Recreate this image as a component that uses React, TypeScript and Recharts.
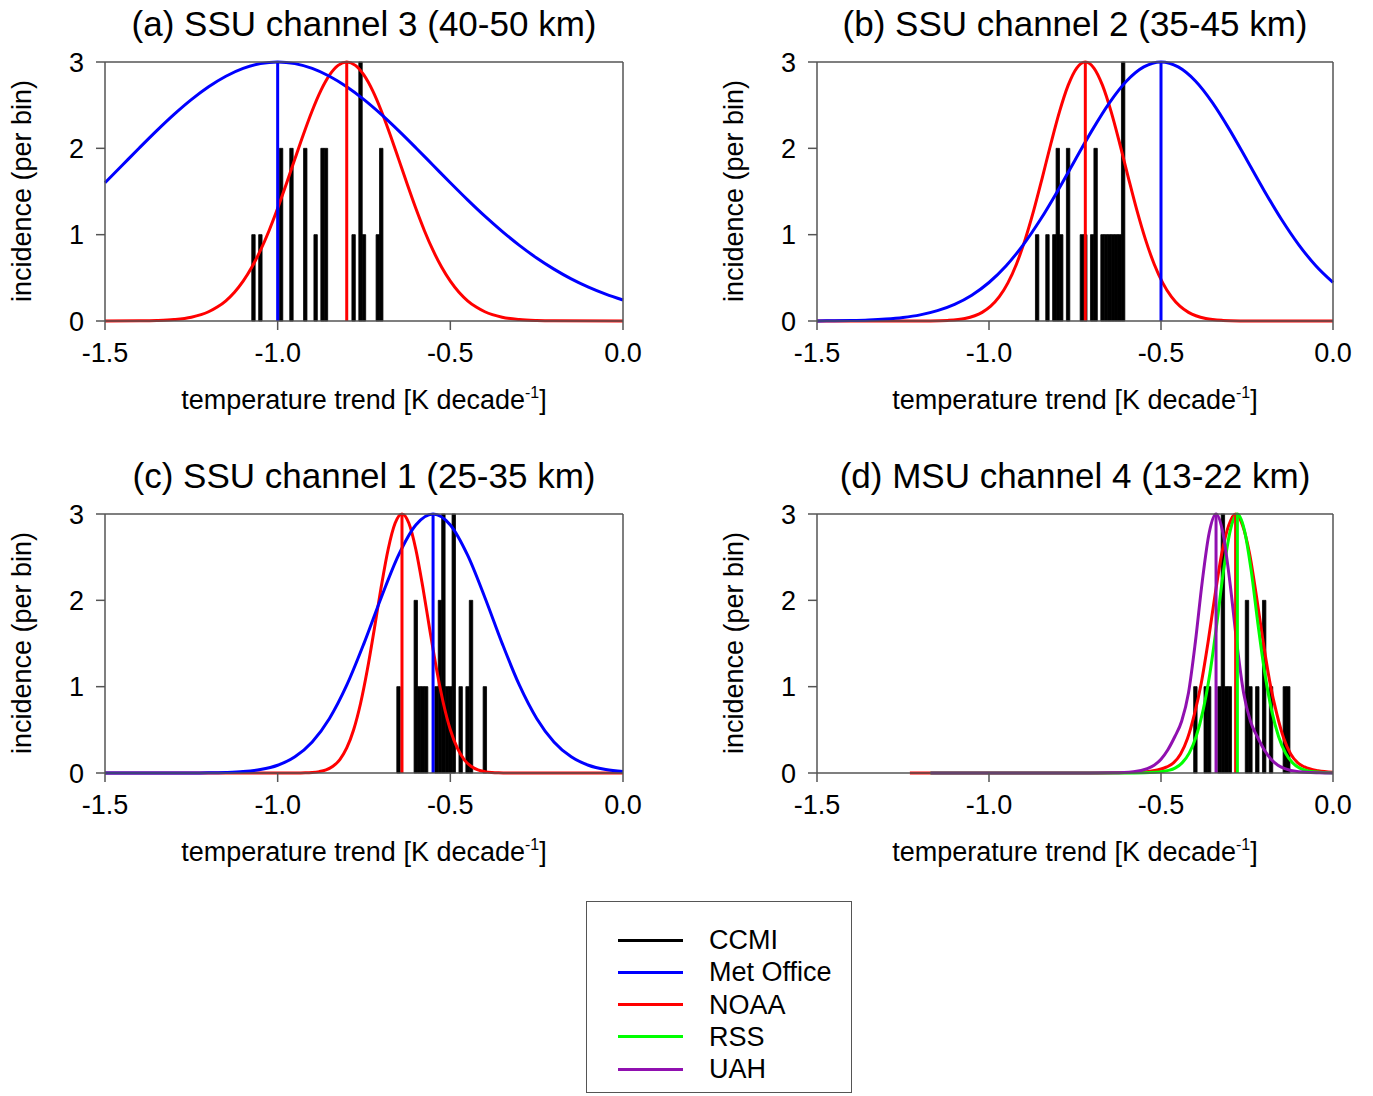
import React from 'react';
import { ComposedChart, Bar, Line, XAxis, YAxis, ReferenceLine } from 'recharts';

const FONT = '"Liberation Sans", Arial, Helvetica, sans-serif';
const AXIS = '#555555';

const xTicks = [-1.5, -1.0, -0.5, 0.0];
const yTicks = [0, 1, 2, 3];

const seriesNames = ['CCMI', 'Met Office', 'NOAA', 'RSS', 'UAH'];
const seriesColors = ['#000000', '#0000ff', '#ff0000', '#00ff00', '#9010b0'];

const panelTitles = [
  '(a) SSU channel 3 (40-50 km)',
  '(b) SSU channel 2 (35-45 km)',
  '(c) SSU channel 1 (25-35 km)',
  '(d) MSU channel 4 (13-22 km)',
];
const yLabel = 'incidence (per bin)';

type Pair = [number, number];

// CCMI model trends, 0.01 K/decade bins: [bin centre, count]
const ccmiA: Pair[] = [
  [-1.07, 1], [-1.05, 1], [-0.99, 2], [-0.96, 2], [-0.92, 2], [-0.89, 1], [-0.87, 2],
  [-0.86, 2], [-0.78, 1], [-0.76, 3], [-0.75, 1], [-0.71, 1], [-0.7, 2],
];
const ccmiB: Pair[] = [
  [-0.86, 1], [-0.83, 1], [-0.81, 1], [-0.8, 2], [-0.79, 1], [-0.77, 2], [-0.73, 1],
  [-0.72, 1], [-0.7, 1], [-0.69, 2], [-0.67, 1], [-0.66, 1], [-0.65, 1], [-0.64, 1],
  [-0.63, 1], [-0.62, 1], [-0.61, 3],
];
const ccmiC: Pair[] = [
  [-0.65, 1], [-0.6, 2], [-0.59, 1], [-0.58, 1], [-0.57, 1], [-0.54, 1], [-0.53, 2],
  [-0.52, 3], [-0.51, 1], [-0.5, 1], [-0.49, 3], [-0.47, 1], [-0.45, 1], [-0.44, 2],
  [-0.4, 1],
];
const ccmiD: Pair[] = [
  [-0.4, 1], [-0.37, 1], [-0.36, 1], [-0.33, 1], [-0.32, 3], [-0.31, 1], [-0.3, 1],
  [-0.25, 2], [-0.24, 1], [-0.22, 1], [-0.2, 2], [-0.18, 1], [-0.14, 1], [-0.13, 1],
];

const metA: Pair[] = [
  [-1.5, 1.601], [-1.45, 1.804], [-1.4, 2.007], [-1.35, 2.205], [-1.3, 2.393], [-1.25, 2.564],
  [-1.2, 2.713], [-1.15, 2.835], [-1.1, 2.926], [-1.05, 2.981], [-1.0, 3.0], [-0.95, 2.981],
  [-0.9, 2.926], [-0.85, 2.835], [-0.8, 2.713], [-0.75, 2.564], [-0.7, 2.393], [-0.65, 2.205],
  [-0.6, 2.007], [-0.55, 1.804], [-0.5, 1.601], [-0.45, 1.403], [-0.4, 1.214], [-0.35, 1.038],
  [-0.3, 0.876], [-0.25, 0.73], [-0.2, 0.601], [-0.15, 0.488], [-0.1, 0.392], [-0.05, 0.311],
  [0, 0.243],
];
const noaaA: Pair[] = [
  [-1.5, 0], [-1.4, 0.002], [-1.35, 0.006], [-1.3, 0.017], [-1.25, 0.044], [-1.2, 0.107],
  [-1.175, 0.161], [-1.15, 0.234], [-1.125, 0.333], [-1.1, 0.461], [-1.075, 0.622],
  [-1.05, 0.817], [-1.025, 1.046], [-1.0, 1.305], [-0.975, 1.586], [-0.95, 1.878],
  [-0.925, 2.167], [-0.9, 2.436], [-0.875, 2.669], [-0.85, 2.848], [-0.825, 2.961],
  [-0.8, 3.0], [-0.775, 2.961], [-0.75, 2.848], [-0.725, 2.669], [-0.7, 2.436],
  [-0.675, 2.167], [-0.65, 1.878], [-0.625, 1.586], [-0.6, 1.305], [-0.575, 1.046],
  [-0.55, 0.817], [-0.525, 0.622], [-0.5, 0.461], [-0.475, 0.333], [-0.45, 0.234],
  [-0.425, 0.161], [-0.4, 0.107], [-0.35, 0.044], [-0.3, 0.017], [-0.25, 0.006],
  [-0.2, 0.002], [0, 0],
];
const metB: Pair[] = [
  [-1.5, 0.001], [-1.45, 0.003], [-1.4, 0.006], [-1.35, 0.012], [-1.3, 0.023], [-1.25, 0.041],
  [-1.2, 0.071], [-1.15, 0.12], [-1.1, 0.193], [-1.05, 0.299], [-1.0, 0.446], [-0.95, 0.64],
  [-0.9, 0.885], [-0.85, 1.178], [-0.8, 1.51], [-0.75, 1.862], [-0.7, 2.211], [-0.65, 2.527],
  [-0.6, 2.78], [-0.55, 2.943], [-0.5, 3.0], [-0.45, 2.943], [-0.4, 2.78], [-0.35, 2.527],
  [-0.3, 2.211], [-0.25, 1.862], [-0.2, 1.51], [-0.15, 1.178], [-0.1, 0.885], [-0.05, 0.64],
  [0, 0.446],
];
const noaaB: Pair[] = [
  [-1.5, 0], [-1.22, 0], [-1.17, 0.001], [-1.12, 0.007], [-1.07, 0.029], [-1.02, 0.1],
  [-0.995, 0.172], [-0.97, 0.282], [-0.945, 0.442], [-0.92, 0.661], [-0.895, 0.943],
  [-0.87, 1.281], [-0.845, 1.662], [-0.82, 2.056], [-0.795, 2.425], [-0.77, 2.729],
  [-0.745, 2.93], [-0.72, 3.0], [-0.695, 2.93], [-0.67, 2.729], [-0.645, 2.425],
  [-0.62, 2.056], [-0.595, 1.662], [-0.57, 1.281], [-0.545, 0.943], [-0.52, 0.661],
  [-0.495, 0.442], [-0.47, 0.282], [-0.445, 0.172], [-0.42, 0.1], [-0.37, 0.029],
  [-0.32, 0.007], [-0.27, 0.001], [-0.22, 0], [0, 0],
];
const metC: Pair[] = [
  [-1.5, 0], [-1.3, 0], [-1.25, 0.001], [-1.2, 0.002], [-1.15, 0.006], [-1.1, 0.016],
  [-1.05, 0.04], [-1.0, 0.09], [-0.95, 0.188], [-0.9, 0.36], [-0.85, 0.632], [-0.8, 1.017],
  [-0.75, 1.502], [-0.7, 2.033], [-0.65, 2.523], [-0.6, 2.873], [-0.55, 3.0], [-0.5, 2.873],
  [-0.45, 2.523], [-0.4, 2.033], [-0.35, 1.502], [-0.3, 1.017], [-0.25, 0.632], [-0.2, 0.36],
  [-0.15, 0.188], [-0.1, 0.09], [-0.05, 0.04], [0, 0.016],
];
const noaaC: Pair[] = [
  [-1.5, 0], [-0.96, 0], [-0.94, 0.001], [-0.92, 0.002], [-0.9, 0.006], [-0.88, 0.016],
  [-0.86, 0.036], [-0.84, 0.078], [-0.82, 0.156], [-0.8, 0.29], [-0.78, 0.501], [-0.76, 0.805],
  [-0.74, 1.204], [-0.72, 1.672], [-0.7, 2.159], [-0.68, 2.592], [-0.66, 2.892], [-0.64, 3.0],
  [-0.62, 2.892], [-0.6, 2.592], [-0.58, 2.159], [-0.56, 1.672], [-0.54, 1.204], [-0.52, 0.805],
  [-0.5, 0.501], [-0.48, 0.29], [-0.46, 0.156], [-0.44, 0.078], [-0.42, 0.036], [-0.4, 0.016],
  [-0.38, 0.006], [-0.36, 0.002], [-0.34, 0.001], [-0.32, 0], [0, 0],
];
const noaaD: Pair[] = [
  [-1.23, 0], [-0.683, 0], [-0.583, 0.005], [-0.523, 0.025], [-0.483, 0.07], [-0.463, 0.12],
  [-0.443, 0.22], [-0.423, 0.4], [-0.403, 0.68], [-0.383, 1.04], [-0.363, 1.52], [-0.343, 2.06],
  [-0.323, 2.55], [-0.303, 2.87], [-0.283, 3.0], [-0.263, 2.87], [-0.243, 2.55], [-0.223, 2.06],
  [-0.203, 1.52], [-0.183, 1.04], [-0.163, 0.68], [-0.143, 0.4], [-0.123, 0.22], [-0.103, 0.12],
  [-0.083, 0.07], [-0.043, 0.025], [0, 0.008],
];
const rssD: Pair[] = [
  [-1.17, 0], [-0.578, 0], [-0.518, 0.008], [-0.478, 0.03], [-0.458, 0.06], [-0.438, 0.12],
  [-0.418, 0.23], [-0.398, 0.42], [-0.378, 0.72], [-0.358, 1.15], [-0.338, 1.72], [-0.318, 2.35],
  [-0.298, 2.82], [-0.278, 3.0], [-0.258, 2.82], [-0.238, 2.35], [-0.218, 1.72], [-0.198, 1.15],
  [-0.178, 0.72], [-0.158, 0.42], [-0.138, 0.23], [-0.118, 0.12], [-0.098, 0.06], [-0.078, 0.03],
  [-0.038, 0.008], [0, 0.001],
];
const uahD: Pair[] = [
  [-1.17, 0], [-0.74, 0], [-0.64, 0.003], [-0.58, 0.015], [-0.54, 0.05], [-0.52, 0.09],
  [-0.5, 0.16], [-0.48, 0.27], [-0.46, 0.42], [-0.44, 0.6], [-0.42, 0.93], [-0.4, 1.52],
  [-0.38, 2.22], [-0.36, 2.78], [-0.34, 3.0], [-0.32, 2.78], [-0.3, 2.22], [-0.28, 1.52],
  [-0.26, 0.93], [-0.24, 0.6], [-0.22, 0.42], [-0.2, 0.27], [-0.18, 0.16], [-0.16, 0.09],
  [-0.14, 0.05], [-0.1, 0.015], [-0.04, 0.003], [0, 0],
];

// central trend estimates (vertical lines)
const meansA: [string, number][] = [['NOAA', -0.8], ['Met Office', -1.0]];
const meansB: [string, number][] = [['NOAA', -0.72], ['Met Office', -0.5]];
const meansC: [string, number][] = [['NOAA', -0.64], ['Met Office', -0.55]];
const meansD: [string, number][] = [['NOAA', -0.283], ['RSS', -0.278], ['UAH', -0.34]];

const colorOf = (name: string) => seriesColors[seriesNames.indexOf(name)];

interface PanelSpec {
  title: string;
  bins: Pair[];
  curves: [string, Pair[]][];
  means: [string, number][];
}

const panels: PanelSpec[] = [
  { title: panelTitles[0], bins: ccmiA, curves: [['NOAA', noaaA], ['Met Office', metA]], means: meansA },
  { title: panelTitles[1], bins: ccmiB, curves: [['NOAA', noaaB], ['Met Office', metB]], means: meansB },
  { title: panelTitles[2], bins: ccmiC, curves: [['NOAA', noaaC], ['Met Office', metC]], means: meansC },
  { title: panelTitles[3], bins: ccmiD, curves: [['NOAA', noaaD], ['RSS', rssD], ['UAH', uahD]], means: meansD },
];

const slots = [
  { left: 0, top: 0, plotW: 518, rightW: 63 },
  { left: 712, top: 0, plotW: 516, rightW: 40 },
  { left: 0, top: 452, plotW: 518, rightW: 63 },
  { left: 712, top: 452, plotW: 516, rightW: 40 },
];

const H = 400;
const LEFT_W = 105;

function Panel({ spec, slot }: { spec: PanelSpec; slot: (typeof slots)[number] }) {
  const width = LEFT_W + slot.plotW + slot.rightW;
  const bins = spec.bins.map(([x, n]) => ({ x, n }));
  const cx = LEFT_W + slot.plotW / 2;
  const axisLine = { stroke: AXIS, strokeWidth: 1.5 };
  const tickStyle = { fontSize: 27, fill: '#000', fontFamily: FONT };

  return (
    <div style={{ position: 'absolute', left: slot.left, top: slot.top, width, height: H }}>
      <ComposedChart width={width} height={H} data={bins} margin={{ top: 52, right: 0, bottom: 0, left: 0 }}>
        <XAxis
          xAxisId="main"
          dataKey="x"
          type="number"
          domain={[-1.5, 0]}
          ticks={xTicks}
          interval={0}
          tickFormatter={(v: number) => v.toFixed(1)}
          height={79}
          tickSize={9}
          tickMargin={13}
          axisLine={axisLine}
          tickLine={axisLine}
          tick={tickStyle}
        />
        <XAxis xAxisId="bins" dataKey="x" type="number" domain={[-1.5, 0]} height={0} hide />
        <XAxis
          xAxisId="top"
          orientation="top"
          dataKey="x"
          type="number"
          domain={[-1.5, 0]}
          ticks={xTicks}
          interval={0}
          height={10}
          tickSize={9}
          axisLine={axisLine}
          tickLine={axisLine}
          tick={false}
        />
        <YAxis
          yAxisId="l"
          type="number"
          domain={[0, 3]}
          ticks={yTicks}
          interval={0}
          width={LEFT_W}
          tickSize={9}
          tickMargin={12}
          axisLine={axisLine}
          tickLine={axisLine}
          tick={tickStyle}
        />
        <YAxis
          yAxisId="r"
          orientation="right"
          type="number"
          domain={[0, 3]}
          ticks={yTicks}
          interval={0}
          width={slot.rightW}
          tickSize={9}
          axisLine={axisLine}
          tickLine={axisLine}
          tick={false}
        />
        <Bar
          xAxisId="bins"
          yAxisId="l"
          dataKey="n"
          fill="#000"
          stroke="#000"
          strokeWidth={0.8}
          barSize={3.4}
          isAnimationActive={false}
        />
        {spec.curves.map(([name, pts]) => (
          <Line
            key={name}
            xAxisId="main"
            yAxisId="l"
            data={pts.map(([x, y]) => ({ x, y }))}
            dataKey="y"
            type="monotone"
            dot={false}
            stroke={colorOf(name)}
            strokeWidth={3}
            isAnimationActive={false}
          />
        ))}
        {spec.means.map(([name, x]) => (
          <ReferenceLine key={name} xAxisId="main" yAxisId="l" x={x} stroke={colorOf(name)} strokeWidth={3} />
        ))}
      </ComposedChart>
      <div
        style={{
          position: 'absolute', left: cx, top: 23, transform: 'translate(-50%, -50%)',
          whiteSpace: 'nowrap', fontSize: 35, lineHeight: 1,
        }}
      >
        {spec.title}
      </div>
      <div
        style={{
          position: 'absolute', left: cx, top: 399, transform: 'translate(-50%, -50%)',
          whiteSpace: 'nowrap', fontSize: 27, lineHeight: 1,
        }}
      >
        temperature trend [K decade<span style={{ fontSize: 16, verticalAlign: '11px' }}>-1</span>]
      </div>
      <div
        style={{
          position: 'absolute', left: 22, top: 191, transform: 'translate(-50%, -50%) rotate(-90deg)',
          whiteSpace: 'nowrap', fontSize: 27, lineHeight: 1,
        }}
      >
        {yLabel}
      </div>
    </div>
  );
}

function Legend() {
  return (
    <div
      style={{
        position: 'absolute', left: 586, top: 901, width: 266, height: 192,
        border: `1.5px solid ${AXIS}`, boxSizing: 'border-box',
      }}
    >
      {seriesNames.map((name, i) => (
        <div key={name} style={{ position: 'absolute', left: 0, top: 38 + i * 32.3, height: 0 }}>
          <div
            style={{
              position: 'absolute', left: 31, top: -1.5, width: 65, height: 3,
              background: seriesColors[i],
            }}
          />
          <div
            style={{
              position: 'absolute', left: 122, top: 0, transform: 'translateY(-50%)',
              whiteSpace: 'nowrap', fontSize: 27, lineHeight: 1,
            }}
          >
            {name}
          </div>
        </div>
      ))}
    </div>
  );
}

export default function App() {
  return (
    <div
      style={{
        position: 'absolute', left: 0, top: 0, width: 1373, height: 1096,
        background: '#fff', fontFamily: FONT, color: '#000', overflow: 'hidden',
      }}
    >
      {panels.map((p, i) => (
        <Panel key={p.title} spec={p} slot={slots[i]} />
      ))}
      <Legend />
    </div>
  );
}
